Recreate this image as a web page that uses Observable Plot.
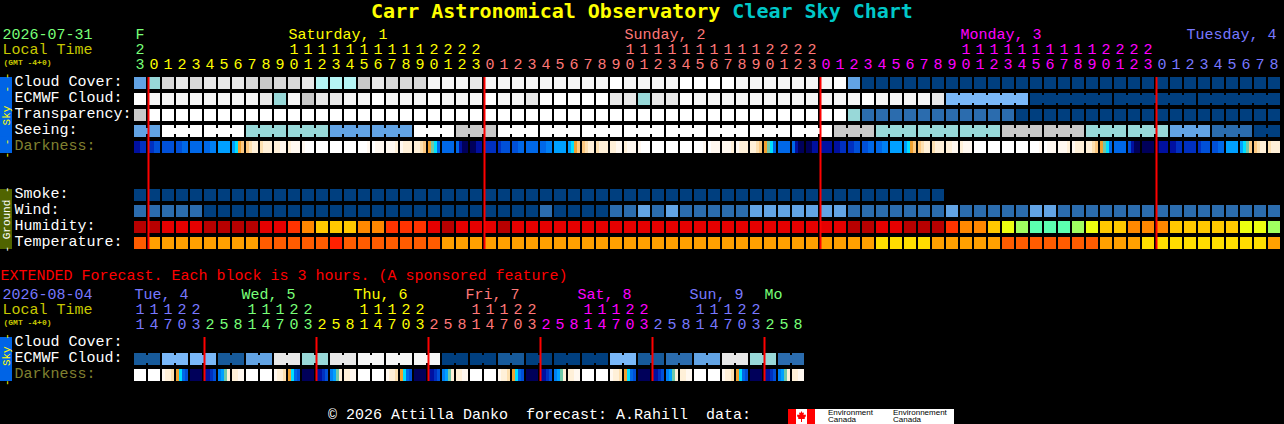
<!DOCTYPE html>
<html>
<head>
<meta charset="utf-8">
<script src="https://cdn.jsdelivr.net/npm/d3@7"></script>
<script src="https://cdn.jsdelivr.net/npm/@observablehq/plot@0.6"></script>
<style>
html,body{margin:0;padding:0;background:#000;overflow:hidden;width:1284px;height:424px}
#title{height:24px;text-align:center;font:bold 20px/23px "DejaVu Sans Mono",monospace;color:#ffff00;white-space:pre}
#title span{color:#00c8c8}
svg{display:block}
svg text{white-space:pre}
#footer{position:relative;height:40px;font:15px "Liberation Mono",monospace;color:#fff;white-space:pre}
#footer .t{position:absolute;left:328px;top:23px;line-height:17px}
#logo{position:absolute;left:788px;top:25px;width:166px;height:15px;background:#fff;color:#000;font:8px/7px "Liberation Sans",sans-serif}
#logo i{position:absolute;top:0;height:15px;width:8px;background:#f00}
#logo b{position:absolute;font-weight:normal}
</style>
</head>
<body>
<div id="title">Carr Astronomical Observatory <span>Clear Sky Chart</span></div>
<div id="main"></div>
<div id="ext"></div>
<div id="footer"><div class="t">© 2026 Attilla Danko  forecast: A.Rahill  data:</div>
<div id="logo"><i style="left:0"></i><i style="left:19px"></i>
<svg width="11" height="15" style="position:absolute;left:8px;top:0"><polygon fill="#f00" points="5.5,2 6.5,4 8,3.5 7.5,6 9.5,5.5 10,7 8.5,9 9,10 6,10 6,13 5,13 5,10 2,10 2.5,9 1,7 1.5,5.5 3.5,6 3,3.5 4.5,4"/></svg>
<b style="left:40px;top:0">Environment</b><b style="left:40px;top:7px">Canada</b>
<b style="left:105px;top:0">Environnement</b><b style="left:105px;top:7px">Canada</b></div></div>
<script>
// ---- colour codes ----
const codes = {
  a:"#003f7f", k:"#175a9a", b:"#2b6cae", c:"#62a3e4", d:"#7ab8f8", e:"#98d8d8", f:"#b5f5f5",
  g:"#c8c8c8", h:"#d8d8d8", i:"#e8e8e8", j:"#f6f6f6", w:"#ffffff",
  r:"#b80000", s:"#e60000", t:"#ff3300", u:"#ff8800", v:"#ffc800", x:"#ecff10", y:"#a0ff60", z:"#5cffb0",
  O:"#ff5c00", P:"#ffa000", Q:"#ffdd00", R:"#ff2000",
  0:"#00005a", 1:"#0010a0", 2:"#0030c0", 3:"#0050d8", 4:"#0068e8", 5:"#0080f4", 6:"#00a0ff", 7:"#00e0ff",
  8:"#f0a030", 9:"#fcc880", A:"#fde0b0", B:"#fff0d8", C:"#fff8f0", D:"#ffffff", G:"#70c8a8"
};
// ---- 1-hour forecast rows, one code per hour ----
const cloudCover   = "cehihiiihghhifffgihhhjjji".concat("jjjjjjjjjwjjjjwwwwjjjjjjjw","c","aaaaaaaaaaaaaaaaaaaaaaaaaaaaaa").split("");
const ecmwfCloud   = "wjjjjjjjjiejgii".concat("jjwjjjwjjjwjj","i","wwwww","ii","e","ii","wjjjjjjjjjjjjwjjjj","i","dddddd","aaaaaaaaaaaaaaaaaa").split("");
const transparency = "g".concat("w".repeat(50),"e","bbbbbbbbbbb","aaaaaaaaaaaaaaaaaaa").split("");
const seeing       = "cc".concat("wwwwww","eeeeee","cccccc","www","ggg","wwwwwwwwwwwwwwwwwwwwwwww","ggg","eeeeeeeee","gggggg","eeeeee","ccc","bbb","aa").split("");
const darkness = ("1122 "+
  "2233 3333 3344 4444 4455 6666 6789 9ABB ABBB BBCC BCCC CDDD DDDD DDDD DDDD DDDC DCCC CCCB CBBB BBA9 8G74 4444 4100 0011 "+
  "2222 2333 3344 4444 4455 6666 6789 9ABB ABBB BBCC BCCC CDDD DDDD DDDD DDDD DDDC DCCC CCCB CBBB BBA9 8G74 4444 4100 0011 "+
  "1111 1122 2233 3344 4455 6666 6789 9ABB ABBB BBCC BCCC DDDD DDDD DDDD DDDD DDDC DCCC CCCB CBBB BBA9 8G74 4444 3100 0000 "+
  "0111 1122 2222 2333 3344 6666 67G9 9ABB ABBB").split(" ");
const smoke       = "a".repeat(58).split("");
const wind        = "bbbbb".concat("a".repeat(24),"b","aaaa","bb","c","b","c","bbbbb","ccccccc","bbbbbbb","c","bbbbb","cc","b".repeat(16)).split("");
const humidity    = "rrsssrrrrsstuvvvuuttt".concat("s","r","sss","r","s".repeat(24),"rr","ss","rrr","t","uu","v","x","y","zzz","y","x","vv","uuu","vvvvv","xx","y").split("");
const temperature = "O".concat("PPPPPPPP","OOOOO","R","O".repeat(7),"P".repeat(31),"QQQQ","PPPPP","O".repeat(7),"PPP","Q".repeat(9),"P").split("");
// ---- 3-hour extended rows ----
const extEcmwf = "kddkcieijjjaakaaadkbcieb".split("");
const extDarkness = ("DDDD DDDD CBBA 8743 0000 1123 56GB BBCC DDDD DDDD CBBA 8743 0000 1123 56GB BBCC "+
  "DDDD DDDD CBBA 8743 0000 1123 56GB BBCC DDDD DDDD CBBA 8743 0000 1123 56GB BBCC "+
  "DDDD DDDD CBBA 8743 0000 1123 56GB BBCC DDDD DDDD CBBA 8743 0000 1123 56GB BBCC").split(" ");
// ---- labels ----
const mainOnes = "3012345678901234567890123012345678901234567890123012345678901234567890123012345678".split("");
const mainTens = "2          11111111112222          11111111112222          11111111112222         ".split("");
const extOnes  = "147032581470325814703258147032581470325814703258".split("");
const extTens  = "11122   11122   11122   11122   11122   11122   ".split("");
const mainDays = [
  {from:0, to:1, color:"#78ff78", label:"F", at:135},
  {from:1, to:25, color:"#ffff00", label:"Saturday, 1", at:288},
  {from:25, to:49, color:"#ff7878", label:"Sunday, 2", at:624},
  {from:49, to:73, color:"#ff00ff", label:"Monday, 3", at:960},
  {from:73, to:82, color:"#7878ff", label:"Tuesday, 4", at:1186}
];
const extDays = [
  {from:0, to:5, color:"#7878ff", label:"Tue, 4", at:134},
  {from:5, to:13, color:"#78ff78", label:"Wed, 5", at:241},
  {from:13, to:21, color:"#ffff00", label:"Thu, 6", at:353},
  {from:21, to:29, color:"#ff7878", label:"Fri, 7", at:465},
  {from:29, to:37, color:"#ff00ff", label:"Sat, 8", at:577},
  {from:37, to:45, color:"#7878ff", label:"Sun, 9", at:689},
  {from:45, to:48, color:"#78ff78", label:"Mo", at:764}
];
const midnights = [1, 25, 49, 73];
const extMidnights = [5, 13, 21, 29, 37, 45];
// ---- blocks: hours that share one forecast value ----
const seeingBlocks = [[0,2],...d3.range(2,80,3).map(s=>[s,s+3]),[80,82]];
const ecmwfBlocks = [[58,64],[64,70],[70,76],[76,82]];
const extBlocks = d3.range(0,48,2).map(s=>[s,s+2]);

const FONT = '"Liberation Mono", monospace';
const px = p => (p-134)/14;         // page pixel to column unit, for side labels
const W = 12/14;
const cells = (row, values) => values.map((code,i)=>({row,x1:i,x2:i+W,code}));
const slices = (row, values) => values.flatMap((s,i)=>s.split("").map((code,j)=>({row,x1:i+j*3/14,x2:i+(j+1)*3/14,code})));
const joins = (row, values, blocks) => blocks.flatMap(([a,b])=>d3.range(a,b-1).map(i=>({row,x1:i+W-0.01,x2:i+1.01,code:values[i]})));
const colorScale = {type:"ordinal", domain:Object.keys(codes), range:Object.values(codes)};
const xScale = {axis:null, domain:[0,82], range:[134,1282]};
const bar = (data,opts={}) => Plot.barX(data,{x1:"x1",x2:"x2",y:"row",fill:"code",...opts});
const rowLabel = (label,fill="#fff") => Plot.text([label],{x:px(14),y:d=>d.replace(":",""),text:d=>d,fill,textAnchor:"start",fontSize:15,dy:-2.5});
const note = (row,text,fill,x,dy,extra={}) => Plot.text([text],{x:px(x),y:()=>row,text:d=>d,fill,textAnchor:"start",fontSize:15,dy,...extra});
const strip = (rows,fill) => [
  Plot.barX(rows.slice(0,1),{x1:px(0),x2:px(12),y:d=>d,fill}),
  Plot.barX(rows.slice(1),{x1:px(0),x2:px(12),y:d=>d,fill,insetTop:-4.1})
];
const dayMarks = (days,tens,ones,dayRow,tensRow,onesRow) => days.flatMap(day=>{
  const cols = d3.range(day.from,day.to);
  return [
    note(dayRow,day.label,day.color,day.at,-1),
    Plot.text(cols.filter(i=>tens[i]!==" "),{x:i=>i+5.6/14,y:()=>tensRow,text:i=>tens[i],fill:day.color,fontSize:15,dy:-2}),
    Plot.text(cols,{x:i=>i+5.6/14,y:()=>onesRow,text:i=>ones[i],fill:day.color,fontSize:15,dy:-3})
  ];
});

// ---- hourly chart ----
const mainRows = ["date","tens","ones","Cloud Cover","ECMWF Cloud","Transparency","Seeing","Darkness","gap1","gap2","Smoke","Wind","Humidity","Temperature"];
const mainPlot = Plot.plot({
  width:1284, height:232, marginTop:53, marginBottom:7, marginLeft:0, marginRight:0,
  style:{background:"#000",fontFamily:FONT,overflow:"visible"},
  x:xScale, color:colorScale,
  y:{axis:null,type:"band",domain:mainRows,range:[5,225],paddingInner:0.25,paddingOuter:0,align:0,round:false},
  marks:[
    ...strip(["Cloud Cover","ECMWF Cloud","Transparency","Seeing","Darkness"],"#0064e6"),
    ...strip(["Smoke","Wind","Humidity","Temperature"],"#506400"),
    Plot.text(["- -  Sky  - -"],{x:px(6),y:()=>"Transparency",text:d=>d,rotate:-90,fill:"#ffff00",fontSize:11}),
    Plot.text(["- Ground -"],{x:px(6),y:()=>"Humidity",text:d=>d,rotate:-90,fill:"#fff",fontSize:11,dy:-8}),
    bar(cells("Cloud Cover",cloudCover)),
    bar(cells("ECMWF Cloud",ecmwfCloud)),
    bar(joins("ECMWF Cloud",ecmwfCloud,ecmwfBlocks),{insetTop:2,insetBottom:2}),
    bar(cells("Transparency",transparency)),
    bar(cells("Seeing",seeing)),
    bar(joins("Seeing",seeing,seeingBlocks),{insetTop:3,insetBottom:3}),
    bar(slices("Darkness",darkness)),
    bar(cells("Smoke",smoke)),
    bar(cells("Wind",wind)),
    bar(cells("Humidity",humidity)),
    bar(cells("Temperature",temperature)),
    Plot.ruleX(midnights,{stroke:"#ff0000",strokeWidth:2}),
    ["Cloud Cover:","ECMWF Cloud:","Transparency:","Seeing:"].map(l=>rowLabel(l)),
    rowLabel("Darkness:","#808030"),
    ["Smoke:","Wind:","Humidity:","Temperature:"].map(l=>rowLabel(l)),
    note("date","2026-07-31","#78ff78",2,-1),
    note("tens","Local Time","#c8c800",2,-2),
    note("ones","(GMT -4+0)","#c8c800",3,-5,{fontSize:8,fontWeight:"bold"}),
    ...dayMarks(mainDays,mainTens,mainOnes,"date","tens","ones")
  ]
});
document.getElementById("main").append(mainPlot);
document.getElementById("main").style.height="244px";

// ---- extended chart ----
const extRows = ["extended","date","tens","ones","Cloud Cover","ECMWF Cloud","Darkness"];
const extPlot = Plot.plot({
  width:1284, height:116, marginTop:69, marginBottom:3, marginLeft:0, marginRight:0,
  style:{background:"#000",fontFamily:FONT,overflow:"visible"},
  x:xScale, color:colorScale,
  y:{axis:null,type:"band",domain:extRows,range:[5,113],paddingInner:0.25,paddingOuter:0,align:0,round:false},
  marks:[
    ...strip(["Cloud Cover","ECMWF Cloud","Darkness"],"#0064e6"),
    Plot.text(["-  Sky -"],{x:px(6),y:()=>"ECMWF Cloud",text:d=>d,rotate:-90,fill:"#ffff00",fontSize:11}),
    bar(extEcmwf.flatMap((code,i)=>[{row:"ECMWF Cloud",x1:i*2,x2:i*2+W,code},{row:"ECMWF Cloud",x1:i*2+1,x2:i*2+1+W,code}])),
    bar(joins("ECMWF Cloud",extEcmwf.flatMap(c=>[c,c]),extBlocks),{insetTop:2,insetBottom:2}),
    bar(slices("Darkness",extDarkness)),
    Plot.ruleX(extMidnights,{stroke:"#ff0000",strokeWidth:2}),
    ["Cloud Cover:","ECMWF Cloud:"].map(l=>rowLabel(l)),
    rowLabel("Darkness:","#808030"),
    note("extended","EXTENDED Forecast. Each block is 3 hours. (A sponsored feature)","#ff0000",0,-4),
    note("date","2026-08-04","#7878ff",2,-1),
    note("tens","Local Time","#c8c800",2,-2),
    note("ones","(GMT -4+0)","#c8c800",3,-5,{fontSize:8,fontWeight:"bold"}),
    ...dayMarks(extDays,extTens,extOnes,"date","tens","ones")
  ]
});
document.getElementById("ext").append(extPlot);
</script>
</body>
</html>
